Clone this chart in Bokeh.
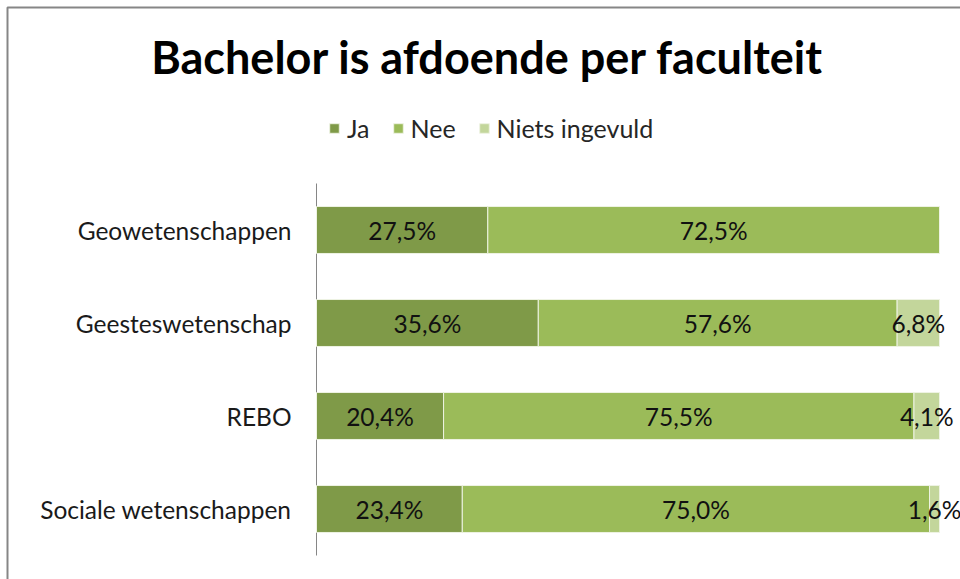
from bokeh.plotting import figure
from bokeh.models import (Range1d, ColumnDataSource, LabelSet, Label,
                          Legend, LegendItem, BoxAnnotation)
from bokeh.core.properties import value
from bokeh.embed import file_html
from bokeh.resources import INLINE

categories = ["Geowetenschappen", "Geesteswetenschap", "REBO", "Sociale wetenschappen"]
ja = [27.5, 35.6, 20.4, 23.4]
nee = [72.5, 57.6, 75.5, 75.0]
niets = [0.0, 6.8, 4.1, 1.6]
series_names = ["Ja", "Nee", "Niets ingevuld"]
colors = ["#7F9A48", "#9BBB59", "#C3D69B"]
title_text = "Bachelor is afdoende per faculteit"

FONT = "Lato"
W, H = 960, 579

# layout of the plotting area in pixels (frame = whole canvas)
AX_LEFT, AX_RIGHT = 316, 939     # 0% .. 100%
BAND_TOP, BAND = 183, 93         # first category band top, band height

x_range = Range1d(-AX_LEFT / (AX_RIGHT - AX_LEFT), (W - AX_LEFT) / (AX_RIGHT - AX_LEFT))
y0 = (BAND_TOP + BAND / 2)
y_range = Range1d((H - y0) / BAND, (0 - y0) / BAND)   # inverted: first category on top

p = figure(width=W, height=H, output_backend="svg", toolbar_location=None,
           x_range=x_range, y_range=y_range,
           min_border=0, min_border_left=0, min_border_right=0,
           min_border_top=0, min_border_bottom=0)
p.outline_line_color = None
p.grid.visible = False
p.xaxis.visible = False
p.yaxis.visible = False
p.background_fill_color = "white"
p.border_fill_color = "white"

idx = list(range(len(categories)))

# category axis line and labels
p.segment(x0=[0], y0=[-0.5], x1=[0], y1=[len(categories) - 0.5],
          line_color="#868686", line_width=1)
cat_src = ColumnDataSource(dict(y=idx, x=[-25 / (AX_RIGHT - AX_LEFT)] * len(categories),
                                t=categories))
p.text(x="x", y="y", text="t", source=cat_src, text_align="right",
       text_baseline="middle", text_font=value(FONT), text_font_size="24.5px",
       text_color="#1a1a1a")

vals = [ja, nee, niets]
renderers = []
left = [0.0] * len(categories)
for name, v, c in zip(series_names, vals, colors):
    frac = [x / 100.0 for x in v]
    right = [l + f for l, f in zip(left, frac)]
    src = ColumnDataSource(dict(y=idx, left=left, right=right,
                                mid=[(l + r) / 2 for l, r in zip(left, right)],
                                lab=[("%.1f%%" % x).replace(".", ",") if x > 0 else "" for x in v]))
    r = p.hbar(y="y", left="left", right="right", height=0.505, source=src,
               fill_color=c, line_color="#eef3e3", line_width=1)
    renderers.append(r)
    p.add_layout(LabelSet(x="mid", y="y", text="lab", source=src,
                          text_align="center", text_baseline="middle",
                          text_font=value(FONT), text_font_size="24.5px",
                          text_color="#111111"))
    left = right

# title
p.add_layout(Label(x=487, y=H - 56, x_units="screen", y_units="screen", text=title_text,
                   text_align="center", text_baseline="middle", text_font=FONT,
                   text_font_size="45px", text_font_style="bold", text_color="#000000"))

legend = Legend(items=[LegendItem(label=n, renderers=[r]) for n, r in zip(series_names, renderers)],
                orientation="horizontal", location=(328, H - 143), glyph_width=12, glyph_height=12,
                label_standoff=7, spacing=22, padding=0, margin=0,
                label_text_font=FONT, label_text_font_size="25px", label_text_color="#262626",
                border_line_color=None, background_fill_alpha=0, label_height=24)
p.add_layout(legend, "center")

# chart border
p.add_layout(BoxAnnotation(left=7, right=W + 50, top=H - 7, bottom=-50,
                           left_units="screen", right_units="screen",
                           top_units="screen", bottom_units="screen",
                           fill_color=None, fill_alpha=0, line_color="#868686",
                           line_alpha=1.0, line_width=2))

open("out.html", "w").write(file_html(p, INLINE))
